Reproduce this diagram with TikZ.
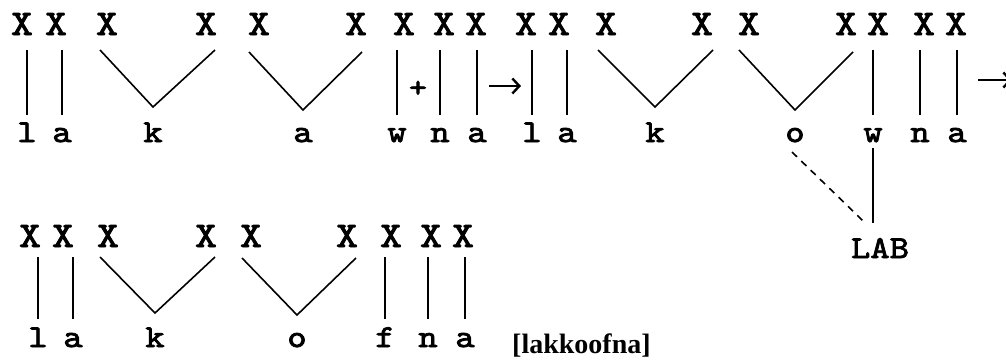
\documentclass[tikz,border=0pt]{standalone}
\usepackage{fontspec}
\setmainfont{Liberation Serif}
\newfontfamily\typew{lmmono10-regular.otf}[FakeBold=2.5, FakeStretch=1.15]
\usetikzlibrary{arrows.meta}

\tikzset{
  skel/.style={font=\fontsize{36}{36}\selectfont\typew, inner sep=0pt, anchor=base},
  seg/.style={font=\fontsize{32}{32}\selectfont\typew, inner sep=0pt, anchor=base},
  assoc/.style={line width=1.6pt},
  rule/.style={line width=2.4pt, -{Straight Barb[length=7pt,width=15pt,line width=2.4pt]}}
}

\begin{document}
\begin{tikzpicture}[x=1pt, y=-1pt]
\useasboundingbox (0,0) rectangle (1006,360);
\clip (0,0) rectangle (1006,360);

% upper row: timing slots and melody
\foreach \x [count=\i] in {22,56,107,206,259,356,404,444,476,526,559,606,702,749,846,878,924,956}
  \node[skel] (u\i) at (\x,35) {X};
\foreach \x/\s/\n in {27/l/l1, 62/a/a1, 153/k/k1, 303/a/a2, 397/w/w1, 440/n/n1, 477/a/a3,
    532/l/l2, 567/a/a4, 655/k/k2, 795/o/o1, 873/w/w2, 920/n/n2, 957/a/a5}
  \node[seg] (\n) at (\x,142) {\s};

% single links
\foreach \s/\t in {l1/u1, a1/u2, w1/u7, n1/u8, a3/u9, l2/u10, a4/u11, w2/u16, n2/u17, a5/u18}
  \draw[assoc, shorten <=15pt, shorten >=27pt] (\s.base |- \t.base) -- (\s.base);

% long segments, linked to two slots
\draw[assoc] ([xshift=-7pt,yshift=-15pt]u3.base) -- ([yshift=35pt]k1.base) -- ([xshift=9pt,yshift=-15pt]u4.base);
\draw[assoc] ([xshift=-10pt,yshift=-17pt]u5.base) -- ([yshift=32pt]a2.base) -- ([xshift=6pt,yshift=-17pt]u6.base);
\draw[assoc] ([xshift=-8pt,yshift=-15pt]u12.base) -- ([yshift=35pt]k2.base) -- ([xshift=11pt,yshift=-15pt]u13.base);
\draw[assoc] ([xshift=-10pt,yshift=-15pt]u14.base) -- ([yshift=32pt]o1.base) -- ([xshift=7pt,yshift=-17pt]u15.base);

\node[font=\fontsize{30}{30}\selectfont\typew, inner sep=0pt] (plus) at (418,89) {+};
\coordinate (r1a) at (489,86);
\coordinate (r1b) at (521,86);
\draw[rule] (r1a) -- (r1b);
\coordinate (r2a) at (978,80);
\coordinate (r2b) at (1012,80);
\draw[rule] (r2a) -- (r2b);

% place feature shared by o and w
\node[seg] (lab) at (880,258) {LAB};
\draw[assoc, dash pattern=on 7pt off 6pt] ([xshift=-3pt,yshift=-10pt]o1.base) -- ([xshift=-15pt,yshift=15pt]lab.north);
\draw[assoc, shorten <=6pt, shorten >=15pt] (w2.base) -- (w2.base |- lab.north);

% lower row: output
\foreach \x [count=\i] in {30,63,108,206,251,347,391,431,463}
  \node[skel] (d\i) at (\x,247) {X};
\foreach \x/\s/\n in {38/l/l3, 73/a/a6, 155/k/k3, 297/o/o2, 385/f/f1, 428/n/n3, 465/a/a7}
  \node[seg] (\n) at (\x,347) {\s};

\foreach \s/\t in {l3/d1, a6/d2, f1/d7, n3/d8, a7/d9}
  \draw[assoc, shorten <=10pt, shorten >=28pt] (\s.base |- \t.base) -- (\s.base);

\draw[assoc] ([xshift=-8pt,yshift=-10pt]d3.base) -- ([yshift=34pt]k3.base) -- ([xshift=9pt,yshift=-10pt]d4.base);
\draw[assoc] ([xshift=-9pt,yshift=-11pt]d5.base) -- ([yshift=32pt]o2.base) -- ([xshift=9pt,yshift=-11pt]d6.base);

\node[font=\fontsize{28}{28}\selectfont\bfseries, inner sep=0pt, anchor=base west] (ipa) at (512,353) {[lakkoofna]};
\end{tikzpicture}
\end{document}
